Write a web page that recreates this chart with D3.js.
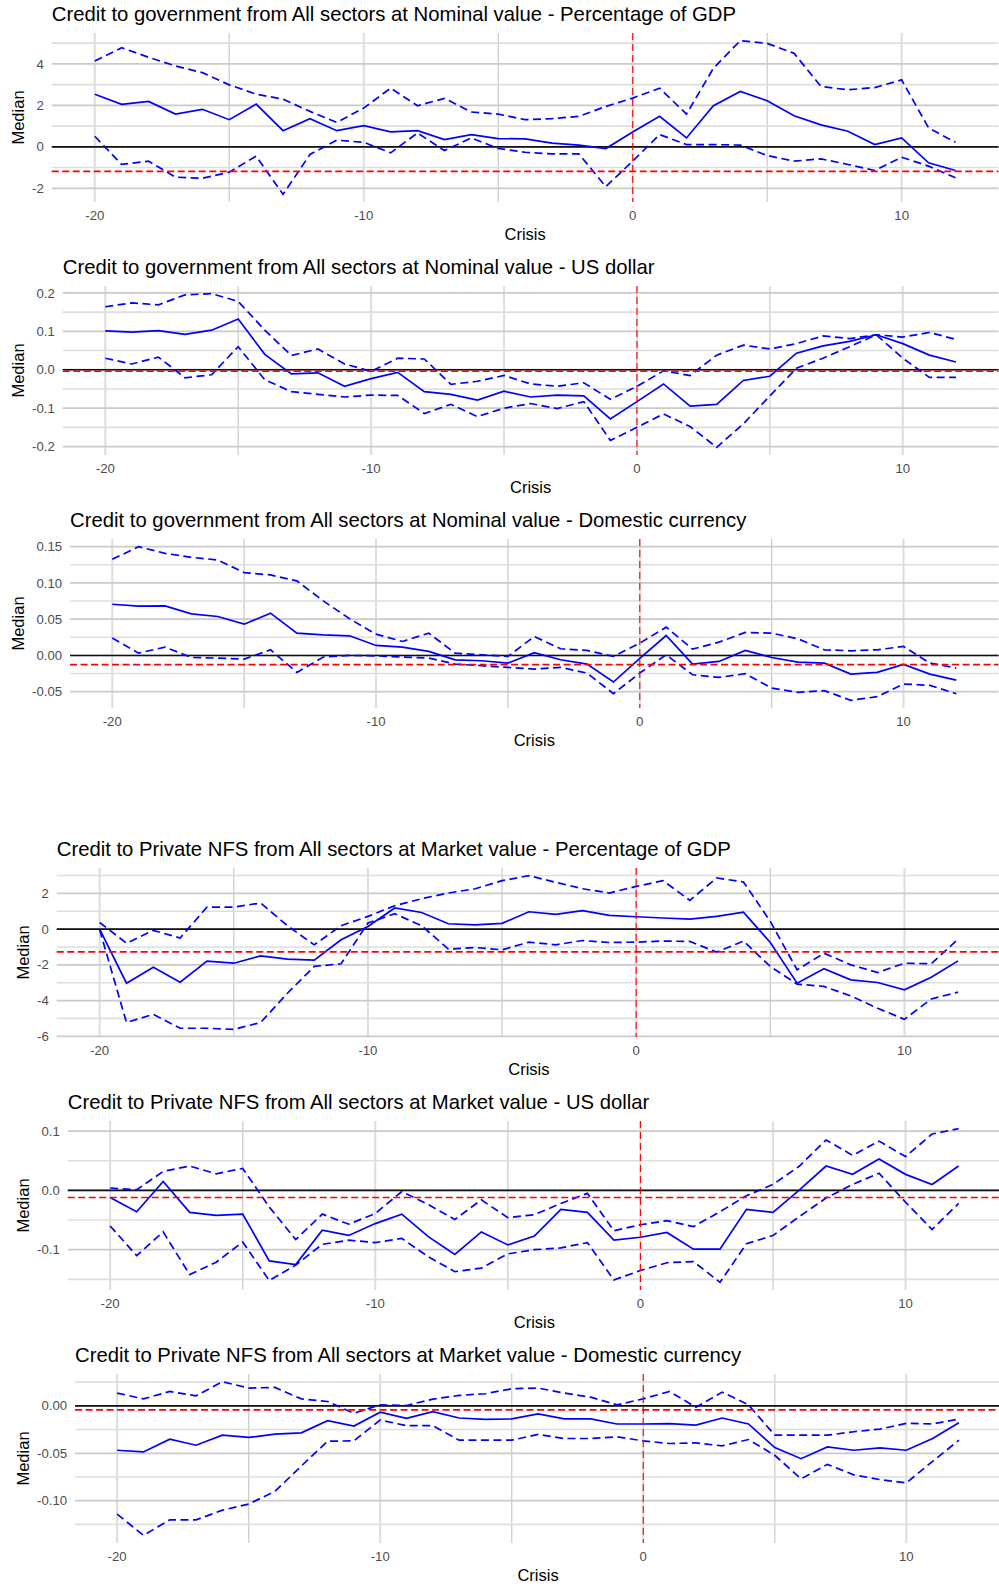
<!DOCTYPE html>
<html>
<head>
<meta charset="utf-8">
<script src="https://cdn.jsdelivr.net/npm/d3@7"></script>
<style>
  body { margin: 0; background: #fff; overflow: hidden; }
  svg { display: block; font-family: "Liberation Sans", Arial, Helvetica, sans-serif; }
</style>
</head>
<body>
<svg id="chart" width="999" height="1589"></svg>
<script>
// years around the crisis (x axis)
var crisis = [-20,-19,-18,-17,-16,-15,-14,-13,-12,-11,-10,-9,-8,-7,-6,-5,-4,-3,-2,-1,0,1,2,3,4,5,6,7,8,9,10,11,12];
var xTicks = [-20, -10, 0, 10];
var xMinor = [-15, -5, 5];

var titles = [
  "Credit to government from All sectors at Nominal value - Percentage of GDP",
  "Credit to government from All sectors at Nominal value - US dollar",
  "Credit to government from All sectors at Nominal value - Domestic currency",
  "Credit to Private NFS from All sectors at Market value - Percentage of GDP",
  "Credit to Private NFS from All sectors at Market value - US dollar",
  "Credit to Private NFS from All sectors at Market value - Domestic currency"
];

// red dashed reference level of each panel
var thresholds = [-1.18, -0.004, -0.0128, -1.27, -0.012, -0.0043];

var yTicks = [
  [4, 2, 0, -2],
  [0.2, 0.1, 0, -0.1, -0.2],
  [0.15, 0.10, 0.05, 0, -0.05],
  [2, 0, -2, -4, -6],
  [0.1, 0, -0.1],
  [0, -0.05, -0.10]
];

// government, percentage of GDP
var govGdpMedian = [2.54,2.05,2.19,1.58,1.81,1.31,2.06,0.78,1.36,0.78,1.02,0.72,0.78,0.35,0.59,0.40,0.38,0.18,0.08,-0.08,0.72,1.47,0.43,1.98,2.67,2.22,1.50,1.06,0.75,0.11,0.43,-0.77,-1.14];
var govGdpUpper  = [4.14,4.78,4.32,3.90,3.58,2.99,2.54,2.30,1.71,1.18,1.87,2.83,1.98,2.34,1.68,1.58,1.31,1.36,1.47,1.95,2.35,2.83,1.58,3.79,5.12,4.99,4.51,2.91,2.75,2.86,3.23,0.91,0.22];
var govGdpLower  = [0.51,-0.85,-0.69,-1.46,-1.52,-1.22,-0.45,-2.29,-0.37,0.32,0.22,-0.29,0.67,-0.18,0.43,-0.08,-0.26,-0.34,-0.34,-1.92,-0.69,0.59,0.11,0.11,0.08,-0.42,-0.69,-0.58,-0.85,-1.14,-0.50,-0.93,-1.49];

// government, US dollar
var govUsdMedian = [0.101,0.098,0.102,0.092,0.103,0.132,0.040,-0.011,-0.008,-0.043,-0.023,-0.007,-0.057,-0.064,-0.079,-0.056,-0.071,-0.066,-0.068,-0.128,-0.083,-0.037,-0.095,-0.090,-0.028,-0.017,0.043,0.062,0.074,0.091,0.068,0.038,0.020];
var govUsdUpper  = [0.164,0.174,0.169,0.195,0.198,0.178,0.103,0.037,0.054,0.015,-0.004,0.030,0.028,-0.038,-0.030,-0.015,-0.037,-0.043,-0.034,-0.077,-0.043,-0.003,-0.015,0.038,0.064,0.054,0.068,0.088,0.081,0.091,0.085,0.097,0.079];
var govUsdLower  = [0.030,0.015,0.033,-0.021,-0.013,0.060,-0.026,-0.057,-0.064,-0.071,-0.066,-0.067,-0.114,-0.090,-0.122,-0.100,-0.088,-0.101,-0.083,-0.184,-0.150,-0.115,-0.148,-0.202,-0.141,-0.068,0.004,0.030,0.060,0.091,0.030,-0.020,-0.020];

// government, domestic currency
var govDomMedian = [0.0706,0.0679,0.0683,0.0573,0.0537,0.0431,0.0583,0.0307,0.0284,0.0271,0.0138,0.0115,0.0055,-0.0060,-0.0073,-0.0106,0.0037,-0.0060,-0.0119,-0.0367,-0.0040,0.0275,-0.0119,-0.0083,0.0069,-0.0028,-0.0092,-0.0106,-0.0257,-0.0234,-0.0124,-0.0257,-0.0340];
var govDomUpper  = [0.1326,0.1500,0.1408,0.1353,0.1317,0.1142,0.1110,0.1028,0.0752,0.0505,0.0294,0.0193,0.0307,0.0032,0.0009,-0.0014,0.0261,0.0092,0.0069,-0.0014,0.0170,0.0390,0.0087,0.0183,0.0317,0.0307,0.0229,0.0078,0.0064,0.0078,0.0124,-0.0106,-0.0174];
var govDomLower  = [0.0239,0.0032,0.0115,-0.0028,-0.0037,-0.0050,0.0078,-0.0234,-0.0023,0.0000,-0.0005,-0.0023,-0.0037,-0.0119,-0.0142,-0.0165,-0.0188,-0.0165,-0.0243,-0.0528,-0.0243,0.0009,-0.0266,-0.0303,-0.0252,-0.0450,-0.0509,-0.0486,-0.0619,-0.0569,-0.0394,-0.0413,-0.0528];

// private NFS, percentage of GDP
var pnfsGdpMedian = [0.00,-3.03,-2.13,-2.97,-1.79,-1.91,-1.50,-1.68,-1.74,-0.60,0.15,1.18,0.93,0.30,0.24,0.32,0.97,0.82,1.03,0.77,0.69,0.62,0.56,0.71,0.95,-0.75,-3.03,-2.22,-2.84,-2.99,-3.40,-2.69,-1.78];
var pnfsGdpUpper  = [0.37,-0.79,-0.07,-0.50,1.23,1.23,1.46,0.19,-0.88,0.19,0.71,1.31,1.70,2.02,2.26,2.71,2.99,2.62,2.26,2.02,2.39,2.71,1.61,2.86,2.64,0.43,-2.28,-1.35,-2.00,-2.43,-1.91,-1.94,-0.56];
var pnfsGdpLower  = [-0.04,-5.23,-4.77,-5.55,-5.55,-5.61,-5.23,-3.59,-2.09,-1.94,0.34,0.86,0.19,-1.12,-1.03,-1.16,-0.73,-0.88,-0.64,-0.75,-0.73,-0.67,-0.69,-1.29,-0.67,-2.09,-3.08,-3.21,-3.74,-4.43,-5.05,-3.91,-3.53];

// private NFS, US dollar
var pnfsUsdMedian = [-0.012,-0.036,0.015,-0.037,-0.042,-0.040,-0.119,-0.125,-0.067,-0.076,-0.056,-0.040,-0.078,-0.108,-0.070,-0.092,-0.077,-0.032,-0.037,-0.084,-0.079,-0.071,-0.099,-0.099,-0.032,-0.037,0.001,0.041,0.027,0.053,0.027,0.010,0.041];
var pnfsUsdUpper  = [0.004,0.001,0.032,0.041,0.028,0.037,-0.028,-0.083,-0.040,-0.057,-0.039,-0.002,-0.024,-0.049,-0.016,-0.046,-0.041,-0.022,-0.005,-0.068,-0.058,-0.051,-0.061,-0.036,-0.009,0.010,0.041,0.085,0.059,0.083,0.057,0.095,0.104];
var pnfsUsdLower  = [-0.060,-0.110,-0.070,-0.142,-0.121,-0.087,-0.152,-0.126,-0.091,-0.084,-0.088,-0.081,-0.112,-0.137,-0.131,-0.107,-0.100,-0.097,-0.088,-0.151,-0.135,-0.122,-0.120,-0.155,-0.090,-0.076,-0.044,-0.013,0.010,0.029,-0.020,-0.066,-0.022];

// private NFS, domestic currency
var pnfsDomMedian = [-0.0468,-0.0486,-0.0351,-0.0415,-0.0309,-0.0333,-0.0298,-0.0284,-0.0156,-0.0213,-0.0067,-0.0131,-0.0060,-0.0128,-0.0142,-0.0138,-0.0085,-0.0138,-0.0138,-0.0191,-0.0191,-0.0188,-0.0202,-0.0128,-0.0191,-0.0440,-0.0557,-0.0433,-0.0468,-0.0443,-0.0468,-0.0344,-0.0177];
var pnfsDomUpper  = [0.0135,0.0074,0.0152,0.0106,0.0255,0.0188,0.0195,0.0074,0.0046,-0.0078,0.0011,0.0004,0.0071,0.0110,0.0128,0.0181,0.0188,0.0135,0.0092,0.0011,0.0074,0.0152,-0.0014,0.0145,0.0011,-0.0309,-0.0309,-0.0309,-0.0273,-0.0245,-0.0184,-0.0191,-0.0138];
var pnfsDomLower  = [-0.1142,-0.1365,-0.1202,-0.1202,-0.1100,-0.1035,-0.0901,-0.0635,-0.0372,-0.0369,-0.0149,-0.0209,-0.0209,-0.0362,-0.0362,-0.0362,-0.0301,-0.0344,-0.0344,-0.0326,-0.0369,-0.0397,-0.0390,-0.0422,-0.0355,-0.0521,-0.0770,-0.0617,-0.0727,-0.0777,-0.0812,-0.0585,-0.0362];

var medians = [govGdpMedian, govUsdMedian, govDomMedian, pnfsGdpMedian, pnfsUsdMedian, pnfsDomMedian];
var uppers  = [govGdpUpper, govUsdUpper, govDomUpper, pnfsGdpUpper, pnfsUsdUpper, pnfsDomUpper];
var lowers  = [govGdpLower, govUsdLower, govDomLower, pnfsGdpLower, pnfsUsdLower, pnfsDomLower];

// layout: two stacked figures of three panels each, the second one sits a bit to the right
var panelTop = [0, 253, 506, 835, 1088, 1341];
var panelShift = [0, 0, 0, 5, 5, 5];
var panelRight = [998.5, 998.5, 998.5, 1001, 1001, 1001];

var svg = d3.select("#chart");
var loc = d3.formatLocale({decimal: ".", thousands: ",", grouping: [3], currency: ["", ""], minus: "-"});

function expand(ext) {
  var pad = (ext[1] - ext[0]) * 0.05;
  return [ext[0] - pad, ext[1] + pad];
}

titles.forEach(function(title, i) {
  var top = panelTop[i], shift = panelShift[i];
  var plotTop = top + 33, plotBottom = top + 202;
  var right = panelRight[i];
  var g = svg.append("g");

  var all = medians[i].concat(uppers[i], lowers[i], [thresholds[i], 0]);
  var y = d3.scaleLinear().domain(expand(d3.extent(all))).range([plotBottom, plotTop]);

  var ticks = yTicks[i];
  var step = Math.abs(ticks[0] - ticks[1]);
  var fmt = loc.format("." + d3.precisionFixed(step) + "f");

  // y labels first, so the panel can start right after the widest one
  var ylab = g.append("g").selectAll("text").data(ticks).join("text")
    .attr("text-anchor", "end")
    .attr("y", function(d) { return y(d); })
    .attr("dy", "0.35em")
    .attr("font-size", 13.2)
    .attr("fill", "#4d4d4d")
    .text(fmt);
  var w = d3.max(ylab.nodes(), function(n) { return n.getComputedTextLength(); });
  var left = shift + 40 + w;
  ylab.attr("x", left - 8);

  var x = d3.scaleLinear().domain(expand(d3.extent(crisis))).range([left, right]);

  // minor grid halfway between majors
  var dom = y.domain();
  var minor = ticks.map(function(v) { return v - step / 2; })
    .concat([d3.max(ticks) + step / 2])
    .filter(function(v) { return v >= dom[0] && v <= dom[1]; });

  var grid = g.append("g");
  grid.selectAll(".vmaj").data(xTicks).join("line")
    .attr("x1", function(d) { return x(d); }).attr("x2", function(d) { return x(d); })
    .attr("y1", plotTop).attr("y2", plotBottom)
    .attr("stroke", "#dcdcdc").attr("stroke-width", 2);
  grid.selectAll(".vmin").data(xMinor).join("line")
    .attr("x1", function(d) { return x(d); }).attr("x2", function(d) { return x(d); })
    .attr("y1", plotTop).attr("y2", plotBottom)
    .attr("stroke", "#cdcdcd").attr("stroke-width", 1.3);
  grid.selectAll(".hmin").data(minor).join("line")
    .attr("x1", left).attr("x2", right)
    .attr("y1", function(d) { return y(d); }).attr("y2", function(d) { return y(d); })
    .attr("stroke", "#dedede").attr("stroke-width", 1.6);
  grid.selectAll(".hmaj").data(ticks).join("line")
    .attr("x1", left).attr("x2", right)
    .attr("y1", function(d) { return y(d); }).attr("y2", function(d) { return y(d); })
    .attr("stroke", "#cacaca").attr("stroke-width", 1.8);

  var line = d3.line()
    .x(function(d, j) { return x(crisis[j]); })
    .y(function(d) { return y(d); });

  g.append("line")
    .attr("x1", left).attr("x2", right)
    .attr("y1", y(0)).attr("y2", y(0))
    .attr("stroke", "#111").attr("stroke-width", 1.6);

  [uppers[i], lowers[i]].forEach(function(s) {
    g.append("path").attr("d", line(s))
      .attr("fill", "none").attr("stroke", "#0000ff")
      .attr("stroke-width", 1.7).attr("stroke-dasharray", "8,4.5");
  });
  g.append("path").attr("d", line(medians[i]))
    .attr("fill", "none").attr("stroke", "#0000ff").attr("stroke-width", 1.7);

  g.append("line")
    .attr("x1", left).attr("x2", right)
    .attr("y1", y(thresholds[i])).attr("y2", y(thresholds[i]))
    .attr("stroke", "#ff0000").attr("stroke-width", 1.7).attr("stroke-dasharray", "7,3.5");
  g.append("line")
    .attr("x1", x(0)).attr("x2", x(0))
    .attr("y1", plotTop).attr("y2", plotBottom)
    .attr("stroke", "#ff0000").attr("stroke-width", 1.1).attr("stroke-dasharray", "7,4");

  // x axis labels and titles
  g.append("g").selectAll("text").data(xTicks).join("text")
    .attr("x", function(d) { return x(d); })
    .attr("y", top + 220)
    .attr("text-anchor", "middle")
    .attr("font-size", 13.2)
    .attr("fill", "#4d4d4d")
    .text(loc.format("d"));

  g.append("text")
    .attr("x", (left + right) / 2).attr("y", top + 240)
    .attr("text-anchor", "middle").attr("font-size", 16.5)
    .text("Crisis");

  g.append("text")
    .attr("transform", "translate(" + (shift + 18.5) + "," + ((plotTop + plotBottom) / 2) + ") rotate(-90)")
    .attr("dy", "0.35em")
    .attr("text-anchor", "middle").attr("font-size", 16.5)
    .text("Median");

  g.append("text")
    .attr("x", left).attr("y", top + 21)
    .attr("font-size", 20.3)
    .text(title);
});
</script>
</body>
</html>
